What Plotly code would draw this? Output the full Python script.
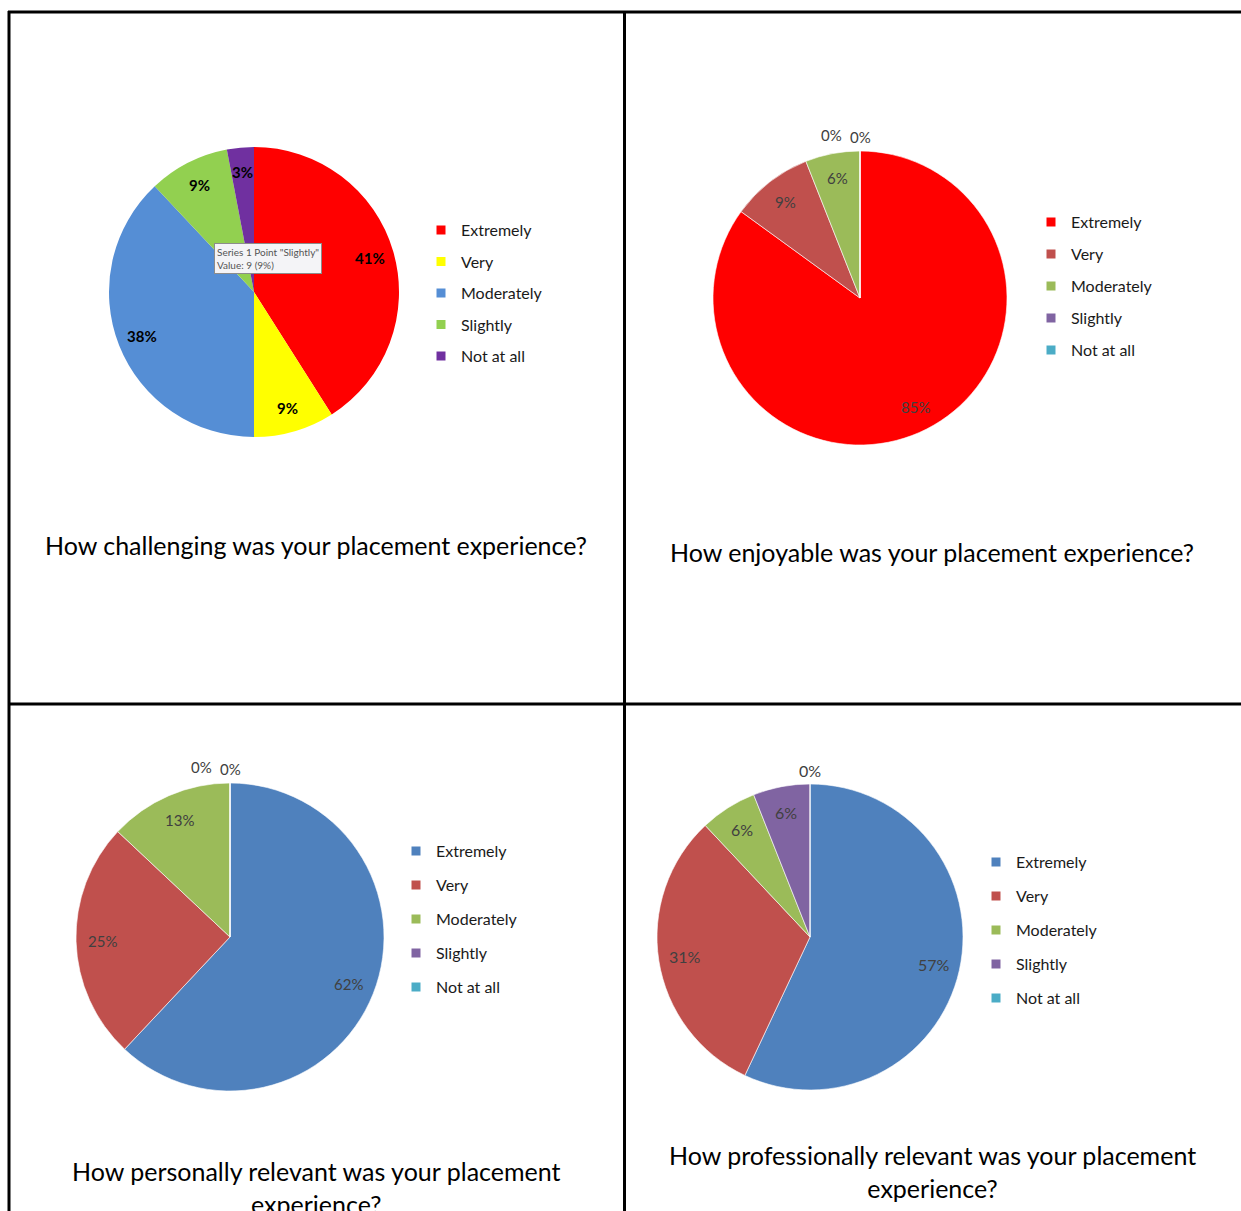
import plotly.graph_objects as go
import math

# ---------------- data ----------------
categories = ["Extremely", "Very", "Moderately", "Slightly", "Not at all"]

challenging_values = [41, 9, 38, 9, 3]
enjoyable_values = [85, 9, 6, 0, 0]
personal_values = [62, 25, 13, 0, 0]
professional_values = [57, 31, 6, 6, 0]

challenging_colors = ["#FF0000", "#FFFF00", "#558ED5", "#92D050", "#7030A0"]
enjoyable_colors = ["#FF0000", "#C0504D", "#9BBB59", "#8064A2", "#4BACC6"]
office_colors = ["#4F81BD", "#C0504D", "#9BBB59", "#8064A2", "#4BACC6"]

titles = [
    "How challenging was your placement experience?",
    "How enjoyable was your placement experience?",
    "How personally relevant was your placement<br>experience?",
    "How professionally relevant was your placement<br>experience?",
]

# ---------------- layout constants ----------------
W, H = 1241, 1211
FONT = "Lato"

def px(x):
    return x / W

def py(y):
    return 1 - y / H

panels = [
    dict(values=challenging_values, colors=challenging_colors, cx=254, cy=292, R=145,
         lab_font=dict(family=FONT, size=15, color="#000000"), bold=True,
         legend="legend", leg_x=461, leg_y=226, leg_gap=31.5,
         title=titles[0], tx=316, ty=545),
    dict(values=enjoyable_values, colors=enjoyable_colors, cx=860, cy=298, R=147,
         lab_font=dict(family=FONT, size=15, color="#404040"), bold=False,
         legend="legend2", leg_x=1071, leg_y=218, leg_gap=32,
         title=titles[1], tx=932, ty=552),
    dict(values=personal_values, colors=office_colors, cx=230, cy=937, R=154,
         lab_font=dict(family=FONT, size=15, color="#404040"), bold=False,
         legend="legend3", leg_x=436, leg_y=847, leg_gap=34,
         title=titles[2], tx=316, ty=1187),
    dict(values=professional_values, colors=office_colors, cx=810, cy=937, R=153,
         lab_font=dict(family=FONT, size=16, color="#404040"), bold=False,
         legend="legend4", leg_x=1016, leg_y=858, leg_gap=34,
         title=titles[3], tx=932, ty=1171),
]

fig = go.Figure()
annotations = []
legends = {}
ITEM_H = 16 * 1.3 + 3

for i, p in enumerate(panels):
    cx, cy, R = p["cx"], p["cy"], p["R"]
    fig.add_trace(go.Pie(
        labels=categories, values=p["values"],
        marker=dict(colors=p["colors"], line=dict(color="white", width=0.6 if i else 0)),
        sort=False, direction="clockwise", rotation=0,
        textinfo="none", hoverinfo="label+value+percent",
        showlegend=False,
        domain=dict(x=[px(cx - R), px(cx + R)], y=[py(cy + R), py(cy - R)]),
    ))
    # legend entries (one group per category so the spacing matches)
    for cat, col in zip(categories, p["colors"]):
        fig.add_trace(go.Scatter(
            x=[None], y=[None], mode="markers", name=cat,
            marker=dict(symbol="square", size=9, color=col),
            legendgroup=f"{p['legend']}_{cat}", legend=p["legend"],
            showlegend=True, hoverinfo="skip",
        ))
    legends[p["legend"]] = dict(
        x=px(p["leg_x"] - 40), y=py(p["leg_y"] - ITEM_H / 2 - 1),
        xanchor="left", yanchor="top",
        font=dict(family=FONT, size=16, color="#1a1a1a"),
        bgcolor="rgba(0,0,0,0)", borderwidth=0,
        tracegroupgap=p["leg_gap"] - ITEM_H,
        itemclick=False, itemdoubleclick=False,
    )
    # percentage labels, positioned from the data
    total = sum(p["values"])
    cum = 0
    zero_idx = [k for k, v in enumerate(p["values"]) if v == 0]
    for k, v in enumerate(p["values"]):
        pct = round(100 * v / total)
        txt = f"<b>{pct}%</b>" if p["bold"] else f"{pct}%"
        if v == 0:
            j = zero_idx.index(k)
            shift = len(zero_idx) - 1 - j
            x = cx - 29 * shift
            y = cy - R - 14 - 2 * shift
        else:
            mid = (cum + v / 2) / total * 2 * math.pi
            r = 0.83 * R
            x = cx + r * math.sin(mid)
            y = cy - r * math.cos(mid)
        cum += v
        annotations.append(dict(
            x=px(x), y=py(y), xref="paper", yref="paper", text=txt,
            showarrow=False, xanchor="center", yanchor="middle", font=p["lab_font"],
        ))
    annotations.append(dict(
        x=px(p["tx"]), y=py(p["ty"]), xref="paper", yref="paper", text=p["title"],
        showarrow=False, xanchor="center", yanchor="middle",
        font=dict(family=FONT, size=25, color="#000000"),
    ))

# tooltip captured in the original screenshot
sv = challenging_values[3]
annotations.append(dict(
    x=px(214), y=py(243), xref="paper", yref="paper",
    text=f"Series 1 Point \"{categories[3]}\"<br>Value: {sv} ({sv}%)",
    showarrow=False, xanchor="left", yanchor="top", align="left",
    font=dict(family=FONT, size=10, color="#555555"),
    bgcolor="#f4f4f7", bordercolor="#8c8c8c", borderwidth=1, borderpad=2,
))

line = dict(color="black", width=3)
shapes = [
    dict(type="line", xref="paper", yref="paper", x0=px(8), x1=1, y0=py(12), y1=py(12), line=line),
    dict(type="line", xref="paper", yref="paper", x0=px(9), x1=px(9), y0=py(11), y1=0, line=line),
    dict(type="line", xref="paper", yref="paper", x0=px(624.5), x1=px(624.5), y0=py(11), y1=0, line=line),
    dict(type="line", xref="paper", yref="paper", x0=px(8), x1=1, y0=py(704), y1=py(704), line=line),
]

fig.update_layout(
    width=W, height=H,
    margin=dict(l=0, r=0, t=0, b=0),
    paper_bgcolor="white", plot_bgcolor="white",
    xaxis=dict(visible=False), yaxis=dict(visible=False),
    annotations=annotations, shapes=shapes,
    **legends,
)

fig.write_html("out.html", config={"displayModeBar": False},
               post_script="document.body.style.margin='0';")
